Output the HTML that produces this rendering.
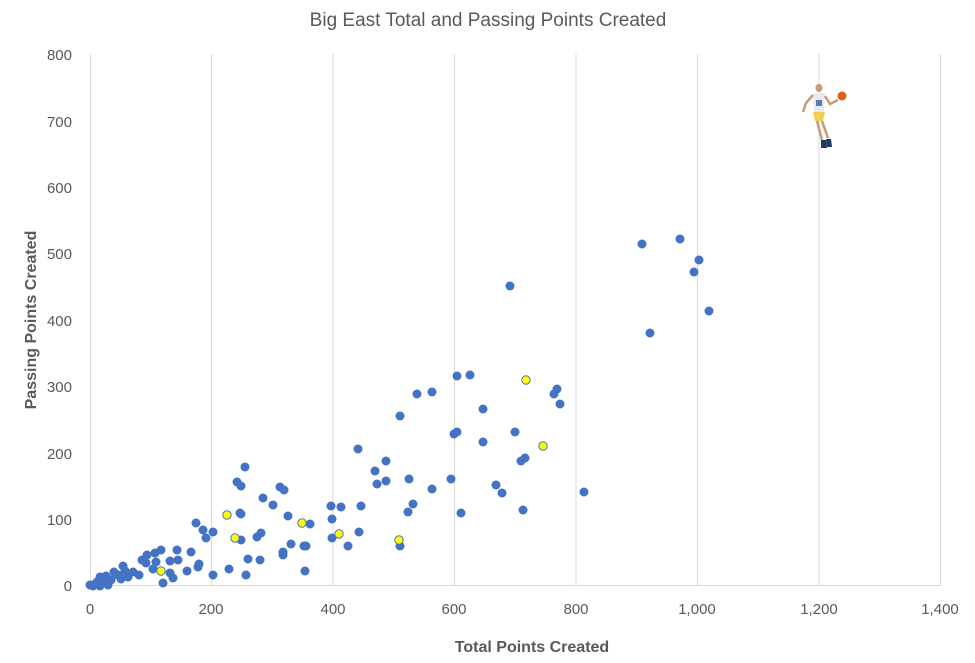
<!DOCTYPE html>
<html><head><meta charset="utf-8"><style>body{margin:0;background:#fff}svg{display:block}</style></head><body>
<svg width="975" height="663" xmlns="http://www.w3.org/2000/svg" font-family="Liberation Sans, sans-serif">
<rect width="975" height="663" fill="#fff"/>
<text x="488" y="26" text-anchor="middle" font-size="19" fill="#595959">Big East Total and Passing Points Created</text>
<g stroke="#d9d9d9" stroke-width="1">
<line x1="211.5" y1="54" x2="211.5" y2="585"/><line x1="333" y1="54" x2="333" y2="585"/><line x1="454.5" y1="54" x2="454.5" y2="585"/><line x1="576" y1="54" x2="576" y2="585"/><line x1="697.5" y1="54" x2="697.5" y2="585"/><line x1="819" y1="54" x2="819" y2="585"/><line x1="940.5" y1="54" x2="940.5" y2="585"/>
<line x1="90" y1="585.5" x2="941" y2="585.5"/><line x1="90.5" y1="54" x2="90.5" y2="585"/>
</g>
<g font-size="15" fill="#595959" text-anchor="end">
<text x="72" y="591">0</text><text x="72" y="525">100</text><text x="72" y="459">200</text><text x="72" y="392">300</text><text x="72" y="326">400</text><text x="72" y="259">500</text><text x="72" y="193">600</text><text x="72" y="127">700</text><text x="72" y="60">800</text>
</g>
<g font-size="15" fill="#595959" text-anchor="middle">
<text x="90" y="614">0</text><text x="211" y="614">200</text><text x="333" y="614">400</text><text x="454" y="614">600</text><text x="576" y="614">800</text><text x="697" y="614">1,000</text><text x="819" y="614">1,200</text><text x="940" y="614">1,400</text>
</g>
<text x="532" y="652" text-anchor="middle" font-size="16" font-weight="bold" fill="#595959">Total Points Created</text>
<text transform="translate(36,320) rotate(-90)" text-anchor="middle" font-size="16" font-weight="bold" fill="#595959">Passing Points Created</text>
<g fill="#4472c4">
<circle cx="642" cy="244" r="4.5"/><circle cx="680" cy="239" r="4.5"/><circle cx="699" cy="260" r="4.5"/><circle cx="694" cy="272" r="4.5"/><circle cx="709" cy="311" r="4.5"/><circle cx="650" cy="333" r="4.5"/><circle cx="510" cy="286" r="4.5"/>
<circle cx="457" cy="376" r="4.5"/><circle cx="470" cy="375" r="4.5"/><circle cx="557" cy="389" r="4.5"/><circle cx="554" cy="394" r="4.5"/><circle cx="560" cy="404" r="4.5"/><circle cx="417" cy="394" r="4.5"/><circle cx="432" cy="392" r="4.5"/>
<circle cx="400" cy="416" r="4.5"/><circle cx="483" cy="409" r="4.5"/><circle cx="457" cy="432" r="4.5"/><circle cx="454" cy="434" r="4.5"/><circle cx="483" cy="442" r="4.5"/><circle cx="515" cy="432" r="4.5"/>
<circle cx="358" cy="449" r="4.5"/><circle cx="386" cy="461" r="4.5"/><circle cx="375" cy="471" r="4.5"/><circle cx="377" cy="484" r="4.5"/><circle cx="386" cy="481" r="4.5"/><circle cx="409" cy="479" r="4.5"/><circle cx="432" cy="489" r="4.5"/><circle cx="451" cy="479" r="4.5"/><circle cx="496" cy="485" r="4.5"/><circle cx="502" cy="493" r="4.5"/><circle cx="521" cy="461" r="4.5"/><circle cx="525" cy="458" r="4.5"/><circle cx="584" cy="492" r="4.5"/>
<circle cx="331" cy="506" r="4.5"/><circle cx="341" cy="507" r="4.5"/><circle cx="361" cy="506" r="4.5"/><circle cx="332" cy="519" r="4.5"/><circle cx="413" cy="504" r="4.5"/><circle cx="408" cy="512" r="4.5"/><circle cx="461" cy="513" r="4.5"/><circle cx="523" cy="510" r="4.5"/><circle cx="359" cy="532" r="4.5"/><circle cx="332" cy="538" r="4.5"/><circle cx="348" cy="546" r="4.5"/><circle cx="400" cy="546" r="4.5"/>
<circle cx="306" cy="546" r="4.5"/><circle cx="305" cy="571" r="4.5"/>
<circle cx="196" cy="523" r="4.5"/><circle cx="203" cy="530" r="4.5"/><circle cx="206" cy="538" r="4.5"/><circle cx="213" cy="532" r="4.5"/><circle cx="191" cy="552" r="4.5"/><circle cx="177" cy="550" r="4.5"/><circle cx="161" cy="550" r="4.5"/><circle cx="155" cy="553" r="4.5"/><circle cx="147" cy="555" r="4.5"/><circle cx="142" cy="560" r="4.5"/><circle cx="146" cy="563" r="4.5"/><circle cx="156" cy="562" r="4.5"/><circle cx="153" cy="569" r="4.5"/><circle cx="170" cy="573" r="4.5"/><circle cx="173" cy="578" r="4.5"/><circle cx="163" cy="583" r="4.5"/><circle cx="170" cy="561" r="4.5"/><circle cx="178" cy="560" r="4.5"/><circle cx="187" cy="571" r="4.5"/><circle cx="198" cy="567" r="4.5"/><circle cx="199" cy="564" r="4.5"/><circle cx="213" cy="575" r="4.5"/><circle cx="229" cy="569" r="4.5"/><circle cx="248" cy="559" r="4.5"/><circle cx="283" cy="555" r="4.5"/><circle cx="283" cy="552" r="4.5"/><circle cx="291" cy="544" r="4.5"/><circle cx="304" cy="546" r="4.5"/><circle cx="310" cy="524" r="4.5"/><circle cx="273" cy="505" r="4.5"/><circle cx="263" cy="498" r="4.5"/><circle cx="257" cy="537" r="4.5"/><circle cx="261" cy="533" r="4.5"/><circle cx="240" cy="513" r="4.5"/><circle cx="241" cy="514" r="4.5"/><circle cx="241" cy="540" r="4.5"/><circle cx="237" cy="482" r="4.5"/><circle cx="241" cy="486" r="4.5"/><circle cx="245" cy="467" r="4.5"/><circle cx="280" cy="487" r="4.5"/><circle cx="284" cy="490" r="4.5"/><circle cx="288" cy="516" r="4.5"/><circle cx="246" cy="575" r="4.5"/><circle cx="260" cy="560" r="4.5"/>
<circle cx="123" cy="566" r="4.5"/><circle cx="114" cy="572" r="4.5"/><circle cx="121" cy="579" r="4.5"/><circle cx="128" cy="577" r="4.5"/><circle cx="133" cy="572" r="4.5"/><circle cx="139" cy="575" r="4.5"/><circle cx="100" cy="577" r="4.5"/><circle cx="106" cy="576" r="4.5"/><circle cx="108" cy="585" r="4.5"/><circle cx="97" cy="582" r="4.5"/><circle cx="90" cy="585" r="4.5"/><circle cx="93" cy="586" r="4.5"/><circle cx="95" cy="584" r="4.5"/><circle cx="103" cy="583" r="4.5"/><circle cx="100" cy="586" r="4.5"/><circle cx="111" cy="580" r="4.5"/><circle cx="118" cy="575" r="4.5"/><circle cx="125" cy="571" r="4.5"/>
</g>
<g fill="#ffff00" stroke="#4472c4" stroke-width="1">
<circle cx="227" cy="515" r="4.2"/><circle cx="235" cy="538" r="4.2"/><circle cx="339" cy="534" r="4.2"/><circle cx="399" cy="540" r="4.2"/><circle cx="161" cy="571" r="4.2"/><circle cx="302" cy="523" r="4.2"/><circle cx="526" cy="380" r="4.2"/><circle cx="543" cy="446" r="4.2"/>
</g>
<g>
<ellipse cx="819" cy="88" rx="3.5" ry="4" fill="#c89a7a"/>
<path d="M813 93 L825 93 L824 112 L814 112Z" fill="#e6e9ef"/>
<path d="M816 100 L822 100 L822 106 L816 106Z" fill="#5b7bb0"/>
<path d="M813 112 L825 112 L823 121 L815 121Z" fill="#f0d050"/>
<path d="M813 95 L806 103 L803 112" stroke="#c89a7a" stroke-width="2.5" fill="none"/>
<path d="M825 96 L830 104 L838 100" stroke="#c89a7a" stroke-width="2.5" fill="none"/>
<path d="M817 121 L822 140 M822 121 L828 138" stroke="#c89a7a" stroke-width="2.5" fill="none"/>
<path d="M821 140 L826 140 L827 148 L821 148Z" fill="#1f3a60"/>
<path d="M826 139 L831 139 L832 147 L827 147Z" fill="#1f3a60"/>
<circle cx="842" cy="96" r="4.5" fill="#d9641a"/>
</g>
</svg>
</body></html>
